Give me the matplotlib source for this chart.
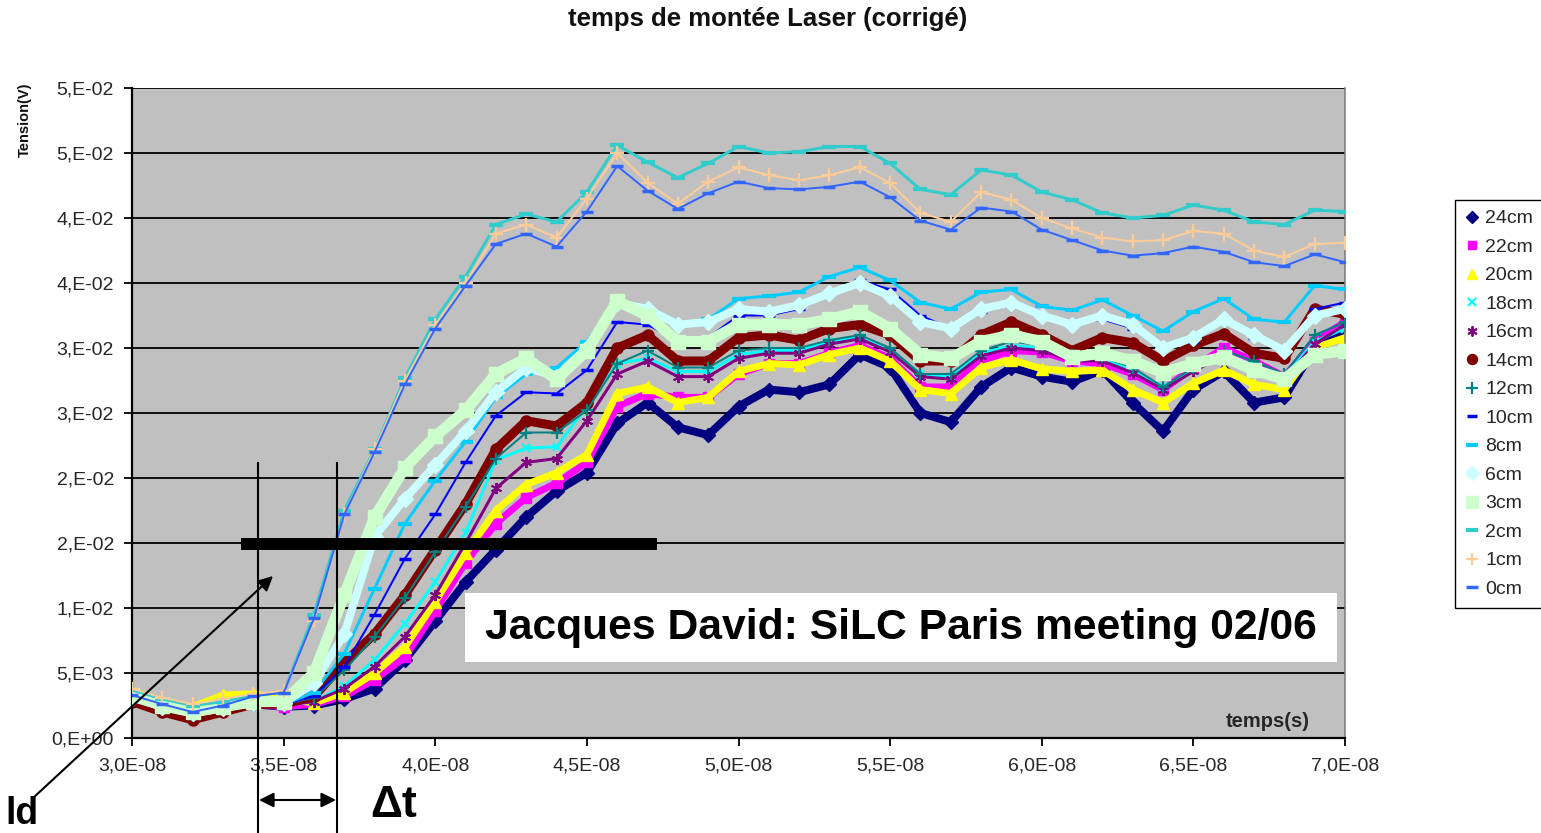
import matplotlib
matplotlib.use("Agg")
import matplotlib.pyplot as plt
from matplotlib.lines import Line2D
from matplotlib.patches import Rectangle, FancyArrowPatch

plt.rcParams['font.family'] = ['Liberation Sans', 'DejaVu Sans']

# Sample times (ns), one sample per ns from 30 ns to 70 ns
time_ns = list(range(30, 71))

# Rise of the laser signal (V) for each distance
v_24cm = [.0030, .0023, .0018, .0023, .0026, .0024, .0025, .0030, .0038, .0060,
          .0090, .0120, .0145, .0170, .0190, .0204, .0242, .0258, .0239, .0233,
          .0255, .0268, .0266, .0272, .0295, .0285, .0250, .0243, .0270, .0285,
          .0278, .0274, .0283, .0258, .0236, .0268, .0282, .0258, .0262, .0300,
          .0312]
v_22cm = [.0029, .0022, .0017, .0022, .0026, .0024, .0026, .0032, .0045, .0062,
          .0098, .0135, .0165, .0185, .0196, .0212, .0255, .0265, .0262, .0262,
          .0280, .0288, .0288, .0296, .0302, .0292, .0270, .0270, .0290, .0298,
          .0297, .0290, .0288, .0280, .0268, .0285, .0300, .0290, .0278, .0305,
          .0320]
v_20cm = [.0034, .0028, .0024, .0033, .0034, .0030, .0027, .0035, .0050, .0070,
          .0105, .0142, .0175, .0195, .0204, .0218, .0265, .0270, .0258, .0262,
          .0282, .0288, .0287, .0295, .0300, .0290, .0268, .0265, .0285, .0291,
          .0284, .0282, .0283, .0268, .0258, .0273, .0283, .0272, .0268, .0300,
          .0308]
v_18cm = [.0031, .0024, .0019, .0024, .0028, .0025, .0028, .0040, .0060, .0088,
          .0120, .0158, .0214, .0223, .0224, .0255, .0288, .0292, .0282, .0282,
          .0295, .0298, .0298, .0305, .0308, .0298, .0280, .0278, .0296, .0302,
          .0300, .0292, .0292, .0283, .0270, .0283, .0295, .0287, .0278, .0305,
          .0315]
v_16cm = [.0030, .0023, .0018, .0023, .0027, .0025, .0028, .0038, .0055, .0078,
          .0110, .0150, .0192, .0212, .0215, .0244, .0280, .0290, .0278, .0278,
          .0292, .0296, .0296, .0303, .0307, .0297, .0278, .0276, .0294, .0300,
          .0298, .0290, .0290, .0281, .0268, .0282, .0294, .0285, .0276, .0303,
          .0318]
v_14cm = [.0028, .0020, .0014, .0020, .0026, .0026, .0032, .0058, .0080, .0110,
          .0145, .0180, .0222, .0244, .0240, .0258, .0300, .0310, .0290, .0290,
          .0308, .0310, .0306, .0315, .0318, .0310, .0290, .0290, .0310, .0320,
          .0310, .0298, .0308, .0304, .0290, .0302, .0311, .0296, .0292, .0330,
          .0326]
v_12cm = [.0030, .0022, .0017, .0022, .0027, .0026, .0031, .0052, .0078, .0108,
          .0143, .0178, .0215, .0235, .0235, .0252, .0288, .0298, .0285, .0285,
          .0298, .0300, .0300, .0306, .0310, .0300, .0280, .0280, .0298, .0305,
          .0302, .0295, .0293, .0285, .0270, .0285, .0298, .0290, .0280, .0310,
          .0320]
v_10cm = [.0030, .0023, .0018, .0022, .0027, .0026, .0032, .0055, .0095, .0138,
          .0172, .0212, .0248, .0266, .0265, .0283, .0320, .0318, .0305, .0308,
          .0325, .0325, .0330, .0342, .0352, .0345, .0325, .0315, .0328, .0333,
          .0325, .0318, .0322, .0315, .0302, .0305, .0320, .0308, .0298, .0330,
          .0335]
v_8cm = [.0032, .0025, .0020, .0024, .0027, .0026, .0035, .0065, .0115, .0165,
         .0198, .0228, .0262, .0280, .0285, .0305, .0338, .0330, .0318, .0322,
         .0338, .0340, .0343, .0355, .0362, .0352, .0335, .0330, .0343, .0345,
         .0332, .0329, .0337, .0325, .0313, .0328, .0338, .0322, .0320, .0348,
         .0345]
v_6cm = [.0031, .0024, .0019, .0023, .0027, .0027, .0042, .0080, .0155, .0184,
         .0210, .0236, .0266, .0285, .0278, .0300, .0335, .0330, .0318, .0320,
         .0330, .0328, .0333, .0342, .0350, .0340, .0320, .0315, .0330, .0335,
         .0325, .0318, .0325, .0318, .0300, .0308, .0322, .0310, .0298, .0325,
         .0330]
v_3cm = [.0033, .0025, .0020, .0024, .0028, .0028, .0050, .0110, .0170, .0208,
         .0232, .0252, .0280, .0292, .0276, .0298, .0336, .0325, .0305, .0305,
         .0318, .0318, .0318, .0322, .0328, .0315, .0295, .0292, .0305, .0310,
         .0305, .0293, .0296, .0290, .0281, .0288, .0293, .0283, .0276, .0295,
         .0298]
v_2cm = [.0037, .0030, .0025, .0028, .0033, .0035, .0095, .0175, .0222, .0277,
         .0322, .0355, .0395, .0403, .0397, .0420, .0456, .0443, .0431, .0442,
         .0455, .0450, .0451, .0455, .0455, .0442, .0422, .0418, .0437, .0433,
         .0420, .0414, .0404, .0400, .0402, .0410, .0406, .0397, .0395, .0406,
         .0405]
v_1cm = [.0038, .0031, .0026, .0030, .0034, .0036, .0090, .0172, .0222, .0275,
         .0318, .0350, .0388, .0395, .0385, .0415, .0450, .0427, .0411, .0428,
         .0439, .0433, .0429, .0433, .0439, .0427, .0404, .0397, .0420, .0414,
         .0400, .0392, .0385, .0382, .0383, .0390, .0388, .0375, .0370, .0380,
         .0381]
v_0cm = [.0033, .0026, .0020, .0025, .0032, .0035, .0092, .0172, .0220, .0272,
         .0315, .0348, .0380, .0388, .0378, .0405, .0440, .0421, .0407, .0419,
         .0428, .0423, .0422, .0424, .0428, .0416, .0398, .0391, .0408, .0405,
         .0391, .0383, .0375, .0371, .0373, .0378, .0374, .0366, .0363, .0372,
         .0366]

labels = ['24cm', '22cm', '20cm', '18cm', '16cm', '14cm', '12cm',
          '10cm', '8cm', '6cm', '3cm', '2cm', '1cm', '0cm']
values = [v_24cm, v_22cm, v_20cm, v_18cm, v_16cm, v_14cm, v_12cm,
          v_10cm, v_8cm, v_6cm, v_3cm, v_2cm, v_1cm, v_0cm]

x_ticks = [3.0e-8, 3.5e-8, 4.0e-8, 4.5e-8, 5.0e-8, 5.5e-8, 6.0e-8, 6.5e-8, 7.0e-8]
x_tick_labels = ['3,0E-08', '3,5E-08', '4,0E-08', '4,5E-08', '5,0E-08',
                 '5,5E-08', '6,0E-08', '6,5E-08', '7,0E-08']
y_ticks = [0.0, 0.005, 0.010, 0.015, 0.020, 0.025, 0.030, 0.035, 0.040, 0.045, 0.050]
y_tick_labels = ['0,E+00', '5,E-03', '1,E-02', '2,E-02', '2,E-02', '3,E-02',
                 '3,E-02', '4,E-02', '4,E-02', '5,E-02', '5,E-02']

# (colour, marker, marker size, marker edge width, band width in px)
styles = [
    ('#000080', 'D', 7, 1.0, 8),
    ('#FF00FF', 's', 7, 1.0, 7),
    ('#FFFF00', '^', 8, 1.0, 7),
    ('#00FFFF', 'x', 6, 1.6, 3),
    ('#800080', (6, 2, 0), 8, 1.4, 3),
    ('#800000', 'o', 8, 1.0, 9),
    ('#008080', '+', 9, 1.6, 2),
    ('#0000FF', '_', 8, 2.5, 2),
    ('#00CCFF', '_', 10, 3.0, 3),
    ('#CCFFFF', 'D', 8, 1.0, 8),
    ('#CCFFCC', 's', 10, 1.0, 11),
    ('#33CCCC', '_', 10, 3.0, 3),
    ('#FFCC99', '+', 10, 1.6, 2),
    ('#3366FF', '_', 9, 2.5, 2),
]

W, H = 1541, 833


def fx(x):
    return x / W


def fy(y):
    return 1 - y / H


fig = plt.figure(figsize=(W / 100, H / 100), dpi=100)
fig.patch.set_facecolor('white')
ax = fig.add_axes([fx(132), fy(738), (1345 - 132) / W, (738 - 88) / H])
ax.set_facecolor('#C0C0C0')

time_s = [t * 1e-9 for t in time_ns]
for i, (lab, vals, st) in enumerate(zip(labels, values, styles)):
    col, mk, ms, mew, band = st
    ax.plot(time_s, vals, color=col, lw=band * 0.72, solid_capstyle='round',
            marker=mk, markersize=ms, markeredgewidth=mew,
            markerfacecolor=col, markeredgecolor=col, zorder=2 + i * 0.1)

ax.set_xlim(3.0e-8, 7.0e-8)
ax.set_ylim(0, 0.05)
ax.set_xticks(x_ticks)
ax.set_xticklabels(x_tick_labels)
ax.set_yticks(y_ticks)
ax.set_yticklabels(y_tick_labels)
ax.tick_params(axis='both', direction='out', length=6, width=1.3,
               labelsize=14, colors='black', labelcolor='#262626')
ax.tick_params(axis='x', pad=8)
ax.tick_params(axis='y', pad=7)
ax.yaxis.grid(True, color='black', lw=1.3)
ax.set_axisbelow(True)
for side in ('left', 'bottom'):
    ax.spines[side].set_color('black')
    ax.spines[side].set_linewidth(1.6)
ax.spines['top'].set_visible(False)
ax.spines['right'].set_color('#808080')
ax.spines['right'].set_linewidth(1.2)

ax.text(0.936, 0.026, 'temps(s)', transform=ax.transAxes, ha='center',
        va='center', fontsize=14.5, fontweight='bold', color='#262626')

fig.text(fx(768), fy(19), 'temps de montée Laser (corrigé)', ha='center',
         va='center', fontsize=18.5, fontweight='bold', color='#111111')
fig.text(fx(25), fy(120), 'Tension(V)', rotation=90, ha='center',
         va='center', fontsize=10.5, fontweight='bold', color='#111111')

# Legend
handles = []
for lab, st in zip(labels, styles):
    col, mk, ms, mew, band = st
    handles.append(Line2D([], [], linestyle='none', marker=mk, markersize=ms * 0.9,
                          markeredgewidth=mew, color=col))
leg = fig.legend(handles, labels, loc='upper left',
                 bbox_to_anchor=(fx(1455), fy(200)), borderaxespad=0,
                 fontsize=14, frameon=True, fancybox=False, shadow=False,
                 edgecolor='black', framealpha=1, borderpad=0.5,
                 labelspacing=0.56, handlelength=0.75, handletextpad=0.3)
leg.get_frame().set_linewidth(1.0)
for t in leg.get_texts():
    t.set_color('#262626')

# Threshold bar
fig.add_artist(Line2D([fx(241), fx(657)], [fy(544), fy(544)], color='black',
                      lw=8.6, solid_capstyle='butt', zorder=5))
# Delay markers
for xv in (258, 337):
    fig.add_artist(Line2D([fx(xv), fx(xv)], [fy(463), fy(833)], color='black',
                          lw=1.5, zorder=5))
fig.add_artist(FancyArrowPatch((fx(259), fy(800)), (fx(336), fy(800)),
                               transform=fig.transFigure, arrowstyle='<|-|>',
                               mutation_scale=22, color='black', lw=1.5,
                               shrinkA=0, shrinkB=0, zorder=6))
fig.text(fx(370), fy(817), 'Δt', ha='left', va='baseline', fontsize=32,
         fontweight='bold', color='black')
fig.add_artist(FancyArrowPatch((fx(33), fy(798)), (fx(273), fy(576)),
                               transform=fig.transFigure, arrowstyle='-|>',
                               mutation_scale=22, color='black', lw=1.5,
                               shrinkA=0, shrinkB=0, zorder=6))
fig.text(fx(5), fy(824), 'ld', ha='left', va='baseline', fontsize=27,
         fontweight='bold', color='black')

# Meeting caption
fig.add_artist(Rectangle((fx(465), fy(662)), (1337 - 465) / W, (662 - 593) / H,
                         transform=fig.transFigure, facecolor='white',
                         edgecolor='none', zorder=7))
fig.text(fx(901), fy(628), 'Jacques David: SiLC Paris meeting 02/06',
         ha='center', va='center', fontsize=30.7, fontweight='bold',
         color='black', zorder=8)

fig.savefig('out.png', dpi=100, facecolor='white')
